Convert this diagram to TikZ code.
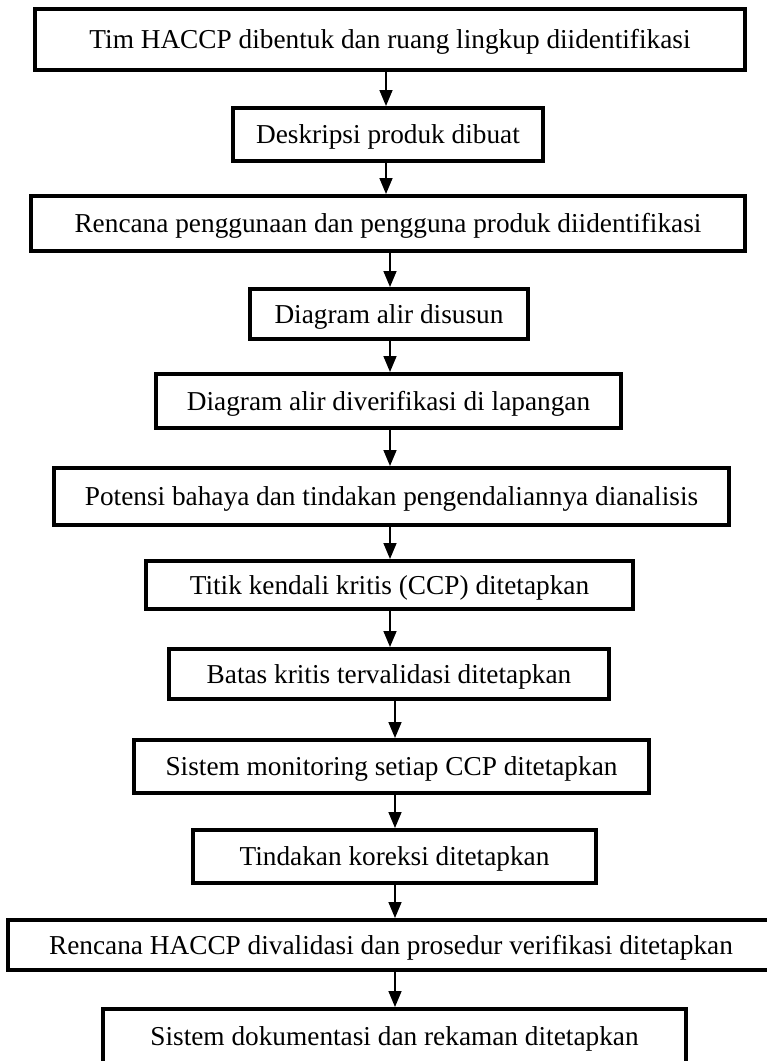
\documentclass[tikz,border=0pt]{standalone}
\usepackage{fontspec}
\setmainfont{Liberation Serif}
\usetikzlibrary{arrows.meta}
\begin{document}
\begin{tikzpicture}[x=1pt,y=-1pt,
  stepbox/.style={draw=black, line width=4.3pt, fill=white, inner sep=0pt,
    font=\fontsize{27.3pt}{32pt}\selectfont, text height=18.1pt, text depth=0pt},
  arr/.style={draw=black, line width=1.6pt, -{Triangle[length=16pt,width=13pt]}}]
\useasboundingbox (0,0) rectangle (767,1061);
\node[stepbox, minimum width=709.7pt, minimum height=60.7pt] (b1) at (390,39.5) {Tim HACCP dibentuk dan ruang lingkup diidentifikasi};
\node[stepbox, minimum width=309.7pt, minimum height=52.7pt] (b2) at (388,134.5) {Deskripsi produk dibuat};
\node[stepbox, minimum width=713.7pt, minimum height=54.7pt] (b3) at (388,223.5) {Rencana penggunaan dan pengguna produk diidentifikasi};
\node[stepbox, minimum width=277.7pt, minimum height=49.7pt] (b4) at (389,314) {Diagram alir disusun};
\node[stepbox, minimum width=464.7pt, minimum height=53.7pt] (b5) at (388.5,401) {Diagram alir diverifikasi di lapangan};
\node[stepbox, minimum width=674.7pt, minimum height=56.7pt] (b6) at (391.5,496.5) {Potensi bahaya dan tindakan pengendaliannya dianalisis};
\node[stepbox, minimum width=486.7pt, minimum height=47.7pt] (b7) at (389.5,585) {Titik kendali kritis (CCP) ditetapkan};
\node[stepbox, minimum width=439.7pt, minimum height=49.7pt] (b8) at (389,674) {Batas kritis tervalidasi ditetapkan};
\node[stepbox, minimum width=514.7pt, minimum height=52.7pt] (b9) at (391.5,766.5) {Sistem monitoring setiap CCP ditetapkan};
\node[stepbox, minimum width=402.7pt, minimum height=52.7pt] (b10) at (394.5,856.5) {Tindakan koreksi ditetapkan};
\node[stepbox, minimum width=765.7pt, minimum height=49.7pt] (b11) at (391,945) {Rencana HACCP divalidasi dan prosedur verifikasi ditetapkan};
\node[stepbox, minimum width=582.7pt, minimum height=54.7pt] (b12) at (394.5,1036.5) {Sistem dokumentasi dan rekaman ditetapkan};
\coordinate (xa) at (386,0);
\coordinate (xb) at (390,0);
\coordinate (xc) at (395,0);
\draw[arr] (b1.south -| xa) -- (b2.north -| xa);
\draw[arr] (b2.south -| xa) -- (b3.north -| xa);
\draw[arr] (b3.south -| xb) -- (b4.north -| xb);
\draw[arr] (b4.south -| xb) -- (b5.north -| xb);
\draw[arr] (b5.south -| xb) -- (b6.north -| xb);
\draw[arr] (b6.south -| xb) -- (b7.north -| xb);
\draw[arr] (b7.south -| xb) -- (b8.north -| xb);
\draw[arr] (b8.south -| xc) -- (b9.north -| xc);
\draw[arr] (b9.south -| xc) -- (b10.north -| xc);
\draw[arr] (b10.south -| xc) -- (b11.north -| xc);
\draw[arr] (b11.south -| xc) -- (b12.north -| xc);
\end{tikzpicture}
\end{document}
